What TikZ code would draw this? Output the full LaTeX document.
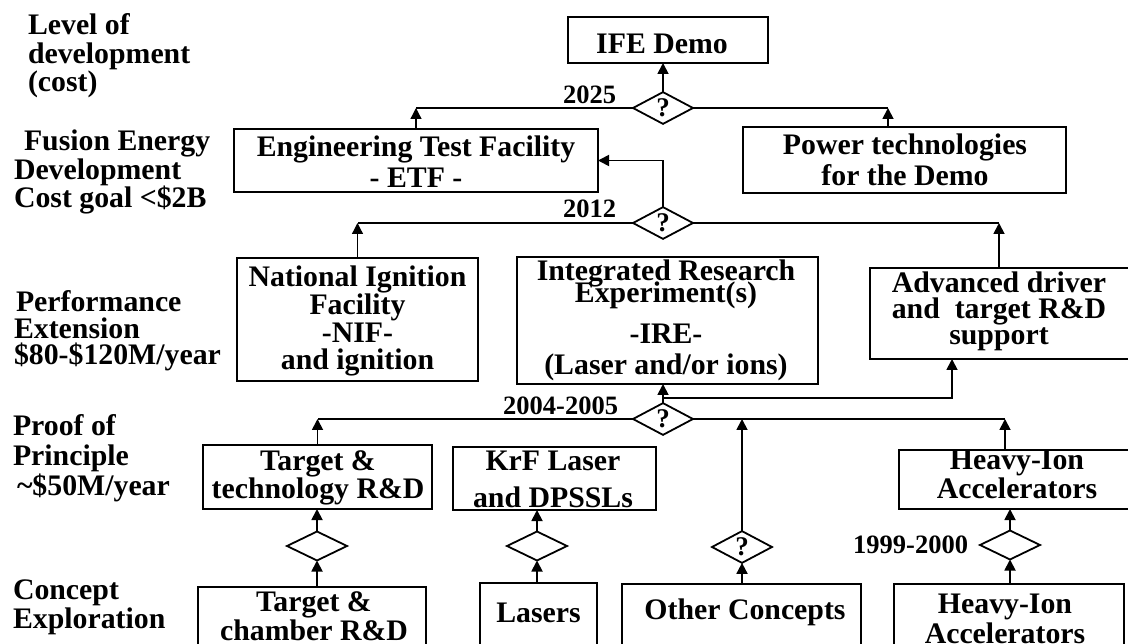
\documentclass[tikz,border=0pt]{standalone}
\usepackage{fontspec}
\setmainfont{Liberation Serif}
\usetikzlibrary{arrows.meta,shapes.geometric,calc}
\begin{document}
\begin{tikzpicture}[x=1pt,y=-1pt,
  every node/.style={inner sep=0pt, outer sep=0pt},
  tx/.style={font=\fontsize{29.8}{#1}\selectfont\bfseries, align=center, anchor=base},
  lbl/.style={font=\fontsize{29.8}{#1}\selectfont\bfseries, align=left, anchor=base west},
  yr/.style={font=\fontsize{26.5}{28}\selectfont\bfseries, anchor=base east},
  box/.style={draw, line width=1.8pt, rectangle},
  dia/.style={draw, diamond, line width=1.8pt, minimum width=60pt, minimum height=29pt, font=\fontsize{27}{27}\selectfont\bfseries},
  arr/.style={line width=1.8pt, -{Triangle[length=11pt,width=11pt]}},
  ln/.style={line width=1.9pt},
  thn/.style={line width=1.3pt}
]
\useasboundingbox (0,0) rectangle (1128,644);
\clip (0,0) rectangle (1128,644);

% boxes
\node[box, minimum width=200pt, minimum height=46pt] (ife) at (668,40) {};
\node[box, minimum width=364pt, minimum height=63pt] (etf) at (416,160.5) {};
\node[box, minimum width=323pt, minimum height=66pt] (pow) at (904.5,160) {};
\node[box, minimum width=241pt, minimum height=123pt] (nif) at (357.5,319.5) {};
\node[box, minimum width=301pt, minimum height=127pt] (ire) at (667.5,320.5) {};
\node[box, minimum width=270pt, minimum height=91pt] (adv) at (1005,313.5) {};
\node[box, minimum width=229pt, minimum height=64pt] (tgt) at (317.5,477) {};
\node[box, minimum width=203pt, minimum height=63pt] (krf) at (554.5,478.5) {};
\node[box, minimum width=241pt, minimum height=59pt] (hiu) at (1019.5,479.5) {};
\node[box, minimum width=228pt, minimum height=73pt] (tch) at (312,623.5) {};
\node[box, minimum width=117pt, minimum height=77pt] (las) at (538.5,621.5) {};
\node[box, minimum width=239pt, minimum height=76pt] (oth) at (741.5,622) {};
\node[box, minimum width=230pt, minimum height=76pt] (hil) at (1009,622) {};

% box texts (anchor = baseline of last line)
\node[tx=28.5] (t-ife) at (662,54) {IFE Demo};
\node[tx=31] (t-etf) at (416,188) {Engineering Test Facility\\- ETF -};
\node[tx=31] (t-pow) at (905,186) {Power technologies\\for the Demo};
\node[tx=27.7] (t-nif) at (357.5,370) {National Ignition\\Facility\\-NIF-\\and ignition};
\node[tx=28.5] (t-ire) at (666,375) {Integrated Research\\[-6.5pt]Experiment(s)\\[12.5pt]-IRE-\\[2.5pt](Laser and/or ions)};
\node[tx=26] (t-adv) at (999,345) {Advanced driver\\and\ \ target R\&D\\support};
\node[tx=28] (t-tgt) at (318,498) {Target \&\\technology R\&D};
\node[tx=36] (t-krf) at (553,507) {KrF Laser\\and DPSSLs};
\node[tx=25] (t-hiu) at (1017,498) {Heavy-Ion\\Accelerators};
\node[tx=29] (t-tch) at (314,640) {Target \&\\chamber R\&D};
\node[tx=28] (t-las) at (538.5,622) {Lasers};
\node[tx=28] (t-oth) at (745,619) {Other Concepts};
\node[tx=30] (t-hil) at (1005,643) {Heavy-Ion\\Accelerators};

% left labels (anchor = baseline of last line)
\node[lbl=28.5] (l-lev) at (28,92) {Level of\\development\\(cost)};
\node[lbl=25.5] (l-fus) at (14,208) {\hspace*{10pt}Fusion Energy\\Development\\Cost goal <\$2B};
\node[lbl=26.5] (l-per) at (14,365) {\hspace*{2pt}Performance\\Extension\\\$80-\$120M/year};
\node[lbl=30] (l-pro) at (13,495) {Proof of\\Principle\\\hspace*{4pt}\textasciitilde\$50M/year};
\node[lbl=26] (l-con) at (13,628) {Concept\\Exploration};

% decision diamonds
\node[dia] (d25) at (663,108) {?};
\node[dia] (d12) at (663,223) {?};
\node[dia] (d04) at (663,419) {?};
\node[dia] (dt) at (317,546) {};
\node[dia] (dl) at (537,546) {};
\node[dia] (dmo) at (742,547) {?};
\node[dia] (dh) at (1010,545) {};

% year labels
\node[yr] (y25) at (616,104) {2025};
\node[yr] (y12) at (616,218) {2012};
\node[yr] (y04) at (618,415) {2004-2005};
\node[yr] (y99) at (968,553) {1999-2000};

% 2025 level
\draw[arr] (d25.north) -- (d25.north |- ife.south);
\draw[thn] (d25.west) -- (etf.north |- d25.west);
\draw[arr,thn] (etf.north) -- (etf.north |- d25.west);
\path (pow.north) ++(-16.5,0) coordinate (pa);
\draw[ln] (d25.east) -- (pa |- d25.east);
\draw[arr] (pa) -- (pa |- d25.east);

% 2012 level
\draw[arr] (d12.north) |- (etf.east);
\draw[thn] (d12.west) -- (nif.north |- d12.west);
\draw[arr,thn] (nif.north) -- (nif.north |- d12.west);
\path (adv.north west) ++(129,0) coordinate (aa);
\draw[ln] (d12.east) -- (aa |- d12.east);
\draw[arr] (aa) -- (aa |- d12.east);

% 2004-2005 level
\draw[arr] (d04.north) -- (d04.north |- ire.south);
\path (d04.north) ++(0,-5.5) coordinate (br);
\path (adv.south west) ++(82,0) coordinate (ab);
\draw[arr] (br) -| (ab);
\draw[thn] (d04.west) -- (tgt.north |- d04.west);
\draw[arr] (tgt.north) -- (tgt.north |- d04.west);
\path (hiu.north west) ++(106,0) coordinate (ha);
\draw[ln] (d04.east) -- (ha |- d04.east);
\draw[arr] (ha) -- (ha |- d04.east);
\draw[arr] (dmo.north) -- (dmo.north |- d04.east);

% lower level
\draw[arr] (dt.north) -- (dt.north |- tgt.south);
\draw[arr] (dt.south |- tch.north) -- (dt.south);
\draw[arr] (dl.north) -- (dl.north |- krf.south);
\draw[arr] (dl.south |- las.north) -- (dl.south);
\draw[arr] (dmo.south |- oth.north) -- (dmo.south);
\draw[arr] (dh.north) -- (dh.north |- hiu.south);
\draw[arr] (dh.south |- hil.north) -- (dh.south);
\end{tikzpicture}
\end{document}
